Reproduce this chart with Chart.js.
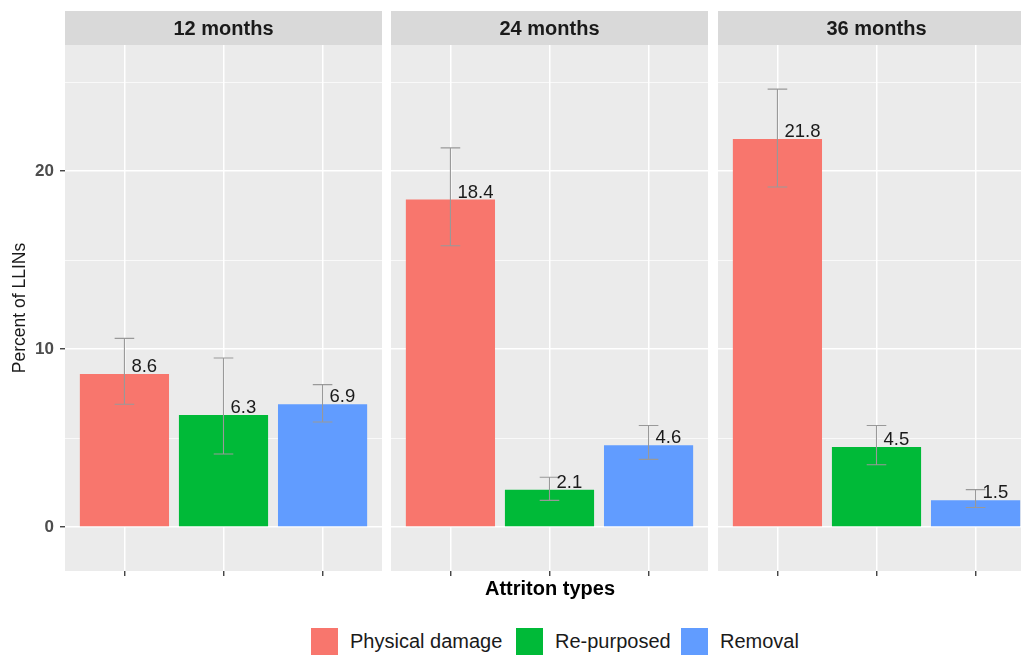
<!DOCTYPE html>
<html>
<head>
<meta charset="utf-8">
<title>LLIN attrition</title>
<script src="https://cdn.jsdelivr.net/npm/chart.js@4.4.1/dist/chart.umd.min.js"></script>
<style>
    html, body { margin: 0; padding: 0; background: #ffffff; overflow: hidden; }
    #wrap { position: relative; width: 1021px; height: 655px; overflow: hidden;
            font-family: "Liberation Sans", Arial, sans-serif; }
    #wrap canvas { position: absolute; top: 0; }
    #xtitle { position: absolute; left: 0; width: 1100px; top: 577px; text-align: center;
              font-weight: bold; font-size: 20px; color: #000000; }
    .leg { position: absolute; top: 628px; height: 27px; display: flex; align-items: center;
           font-size: 20px; color: #1A1A1A; }
    .leg span.box { width: 27px; height: 27px; margin-right: 12px; display: inline-block; }
</style>
</head>
<body>
<div id="wrap">
    <canvas id="p1" width="382" height="600" style="left:0px"></canvas>
    <canvas id="p2" width="317" height="600" style="left:391px"></canvas>
    <canvas id="p3" width="317" height="600" style="left:718px"></canvas>
    <div id="xtitle">Attriton types</div>
    <div id="legend"></div>
</div>
<script>
// facets and attrition types
const periods = ["12 months", "24 months", "36 months"];
const types = ["Physical damage", "Re-purposed", "Removal"];
const colors = ["#F8766D", "#00BA38", "#619CFF"];

// percent of LLINs, one value per period
const physical = [8.6, 18.4, 21.8];
const repurposed = [6.3, 2.1, 4.5];
const removal = [6.9, 4.6, 1.5];

// confidence intervals [low, high] per period
const physicalCI = [[6.9, 10.6], [15.8, 21.3], [19.1, 24.6]];
const repurposedCI = [[4.1, 9.5], [1.5, 2.8], [3.5, 5.7]];
const removalCI = [[5.9, 8.0], [3.8, 5.7], [1.1, 2.1]];

// y axis
const yTicks = [0, 10, 20];
const yGrid = [0, 5, 10, 15, 20, 25];

const FONT = "'Liberation Sans', Arial, sans-serif";

// grey panel + facet strip
const panelBg = {
    id: "panelBg",
    beforeDraw(chart, args, opts) {
        const ctx = chart.ctx;
        const a = chart.chartArea;
        ctx.save();
        ctx.fillStyle = "#EBEBEB";
        ctx.fillRect(a.left, a.top, a.right - a.left, a.bottom - a.top);
        ctx.fillStyle = "#D9D9D9";
        ctx.fillRect(a.left, 11, a.right - a.left, a.top - 11);
        ctx.fillStyle = "#1A1A1A";
        ctx.font = "bold 20px " + FONT;
        ctx.textAlign = "center";
        ctx.textBaseline = "middle";
        ctx.fillText(opts.strip, (a.left + a.right) / 2, 29);
        ctx.restore();
    }
};

// error bars and value labels
const errorBars = {
    id: "errorBars",
    afterDatasetsDraw(chart, args, opts) {
        const ctx = chart.ctx;
        const y = chart.scales.y;
        const meta = chart.getDatasetMeta(0);
        const values = chart.data.datasets[0].data;
        ctx.save();
        meta.data.forEach(function (bar, i) {
            const lo = y.getPixelForValue(opts.ci[i][0]);
            const hi = y.getPixelForValue(opts.ci[i][1]);
            const half = bar.width * 0.11;
            ctx.strokeStyle = "#999999";
            ctx.lineWidth = 1.1;
            ctx.beginPath();
            ctx.moveTo(bar.x, lo); ctx.lineTo(bar.x, hi);
            ctx.moveTo(bar.x - half, lo); ctx.lineTo(bar.x + half, lo);
            ctx.moveTo(bar.x - half, hi); ctx.lineTo(bar.x + half, hi);
            ctx.stroke();

            ctx.fillStyle = "#1A1A1A";
            ctx.font = "18.5px " + FONT;
            ctx.textAlign = "left";
            ctx.textBaseline = "alphabetic";
            ctx.fillText(values[i].y.toFixed(1), bar.x + 7, bar.y - 2);
        });
        ctx.restore();
    }
};

function isMajor(v) {
    return yTicks.includes(v);
}

function makePanel(id, p, first) {
    const vals = [physical[p], repurposed[p], removal[p]];
    const ci = [physicalCI[p], repurposedCI[p], removalCI[p]];

    const yAxis = {
        min: -2.47,
        max: 27.08,
        afterBuildTicks: function (s) { s.ticks = yGrid.map(v => ({ value: v })); },
        afterFit: function (s) { s.width = first ? 65 : 0; },
        border: { display: false },
        grid: {
            color: "#FFFFFF",
            lineWidth: c => isMajor(c.tick.value) ? 1.5 : 0.7,
            drawTicks: first,
            tickLength: 5,
            tickWidth: 1.3,
            tickColor: c => isMajor(c.tick.value) ? "#333333" : "rgba(0,0,0,0)"
        },
        ticks: {
            display: first,
            callback: v => isMajor(v) ? String(v) : "",
            color: "#4D4D4D",
            padding: 6,
            font: { family: FONT, size: 17, weight: "bold" }
        },
        title: {
            display: first,
            text: "Percent of LLINs",
            color: "#1A1A1A",
            padding: { top: 10, bottom: 0 },
            font: { family: FONT, size: 17.5 }
        }
    };

    return new Chart(document.getElementById(id), {
        type: "bar",
        data: {
            datasets: [{
                data: vals.map((v, i) => ({ x: i, y: v })),
                backgroundColor: colors,
                borderWidth: 0,
                barPercentage: 0.9,
                categoryPercentage: 1.0
            }]
        },
        options: {
            responsive: false,
            animation: false,
            layout: { padding: { top: 45, left: 0, right: 0, bottom: 0 } },
            plugins: {
                legend: { display: false },
                tooltip: { enabled: false },
                panelBg: { strip: periods[p] },
                errorBars: { ci: ci }
            },
            scales: {
                x: {
                    type: "linear",
                    min: -0.6,
                    max: types.length - 0.4,
                    offset: false,
                    afterBuildTicks: function (s) { s.ticks = types.map((t, i) => ({ value: i })); },
                    border: { display: false },
                    grid: {
                        offset: false,
                        color: "#FFFFFF",
                        lineWidth: 1.5,
                        drawTicks: true,
                        tickLength: 5,
                        tickWidth: 1.3,
                        tickColor: "#333333"
                    },
                    ticks: { callback: () => "", padding: 0 },
                    afterFit: function (s) { s.height = 29; }
                },
                y: yAxis
            }
        },
        plugins: [panelBg, errorBars]
    });
}

makePanel("p1", 0, true);
makePanel("p2", 1, false);
makePanel("p3", 2, false);

// legend
const legendLeft = [311, 516, 681];
const legend = document.getElementById("legend");
types.forEach(function (t, i) {
    const item = document.createElement("div");
    item.className = "leg";
    item.style.left = legendLeft[i] + "px";
    item.innerHTML = '<span class="box" style="background:' + colors[i] + '"></span>' + t;
    legend.appendChild(item);
});
</script>
</body>
</html>
